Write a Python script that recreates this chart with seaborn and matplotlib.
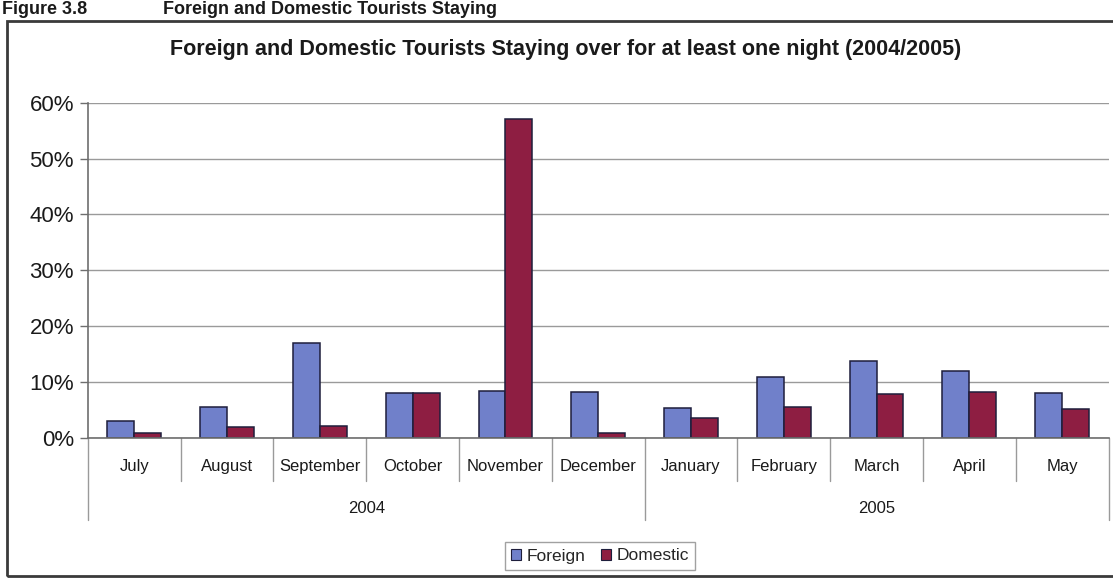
import matplotlib
matplotlib.use("Agg")
import matplotlib.pyplot as plt
import matplotlib.transforms as mtransforms
from matplotlib.patches import Rectangle
from matplotlib.ticker import PercentFormatter
import numpy as np
import pandas as pd
import seaborn as sns

# Monthly share of tourists staying at least one night, July 2004 - May 2005
months = ["July", "August", "September", "October", "November", "December",
          "January", "February", "March", "April", "May"]
years = ["2004", "2004", "2004", "2004", "2004", "2004",
         "2005", "2005", "2005", "2005", "2005"]
foreign = [0.031, 0.055, 0.170, 0.080, 0.084, 0.082,
           0.053, 0.109, 0.138, 0.120, 0.081]
domestic = [0.008, 0.020, 0.021, 0.081, 0.570, 0.009,
            0.036, 0.056, 0.079, 0.082, 0.052]
series = ["Foreign", "Domestic"]
colors = {"Foreign": "#7080CA", "Domestic": "#8E1E42"}

df = pd.DataFrame({
    "Month": months * 2,
    "Share": foreign + domestic,
    "Series": [series[0]] * len(months) + [series[1]] * len(months),
})

sns.set_style("white")
plt.rcParams["font.family"] = ["Liberation Sans", "DejaVu Sans"]

fig = plt.figure(figsize=(11.13, 5.8), dpi=100)
ax = fig.add_axes([0.079, 0.245, 0.917, 0.578])

sns.barplot(data=df, x="Month", y="Share", hue="Series", order=months,
            hue_order=series, palette=colors, width=0.58, saturation=1,
            edgecolor="#1E1E3C", linewidth=1.1, ax=ax, legend=False)

ax.set_ylim(0, 0.6)
ax.set_xlim(-0.5, len(months) - 0.5)
ax.set_yticks(np.arange(0, 0.61, 0.1))
ax.yaxis.set_major_formatter(PercentFormatter(1.0, decimals=0))
ax.tick_params(axis="y", which="both", left=True, length=6, width=1,
               color="#6E6E6E", labelsize=16, pad=4, labelcolor="#1A1A1A")
ax.grid(axis="y", color="#9A9A9A", linewidth=1)
ax.set_axisbelow(True)
ax.set_xlabel("")
ax.set_ylabel("")

for side in ("top", "right"):
    ax.spines[side].set_visible(False)
ax.spines["left"].set_color("#6E6E6E")
ax.spines["bottom"].set_color("#6E6E6E")
ax.spines["left"].set_linewidth(1.2)
ax.spines["bottom"].set_linewidth(1.2)

# Month labels sit below the axis; two-level category axis drawn by hand
ax.set_xticks(range(len(months)))
ax.set_xticklabels(months, fontsize=12, color="#1A1A1A")
ax.tick_params(axis="x", length=0, pad=15)

trans = mtransforms.blended_transform_factory(ax.transData, ax.transAxes)
year_edges = [-0.5] + [i + 0.5 for i in range(len(years) - 1)
                       if years[i] != years[i + 1]] + [len(years) - 0.5]
for i in range(len(months) + 1):
    xpos = i - 0.5
    low = -0.245 if xpos in year_edges else -0.13
    ax.plot([xpos, xpos], [0, low], transform=trans, color="#9A9A9A",
            linewidth=1, clip_on=False)

for start, end in zip(year_edges[:-1], year_edges[1:]):
    label = years[int(start + 0.5)]
    ax.text((start + end) / 2, -0.21, label, transform=trans,
            ha="center", va="center", fontsize=12, color="#1A1A1A")

# Chart title and figure header
fig.text(0.508, 1 - 50 / 580,
         "Foreign and Domestic Tourists Staying over for at least one night (2004/2005)",
         ha="center", va="center", fontsize=15.5, fontweight="bold",
         color="#1A1A1A")
fig.text(0.002, 1 - 1 / 580, "Figure 3.8", ha="left", va="top",
         fontsize=13, fontweight="bold", color="#1A1A1A")
fig.text(163 / 1113, 1 - 1 / 580, "Foreign and Domestic Tourists Staying",
         ha="left", va="top", fontsize=13, fontweight="bold",
         color="#1A1A1A")

# Outer chart frame
fig.patches.append(Rectangle((7 / 1113, 4 / 580), 1.2, 1 - 25 / 580,
                             transform=fig.transFigure, fill=False,
                             edgecolor="#3A3A3A", linewidth=2))

handles = [Rectangle((0, 0), 1, 1, facecolor=colors[s], edgecolor="#1E1E3C",
                     linewidth=0.8) for s in series]
leg = fig.legend(handles, series, loc="center",
                 bbox_to_anchor=(600 / 1113, 1 - 556 / 580), ncol=2,
                 frameon=True, fancybox=False, fontsize=12.5,
                 handlelength=0.6, handleheight=0.6, handletextpad=0.3,
                 columnspacing=0.9, borderpad=0.35)
leg.get_frame().set_edgecolor("#8A8A8A")
leg.get_frame().set_linewidth(1)

fig.savefig("out.png", dpi=100)
